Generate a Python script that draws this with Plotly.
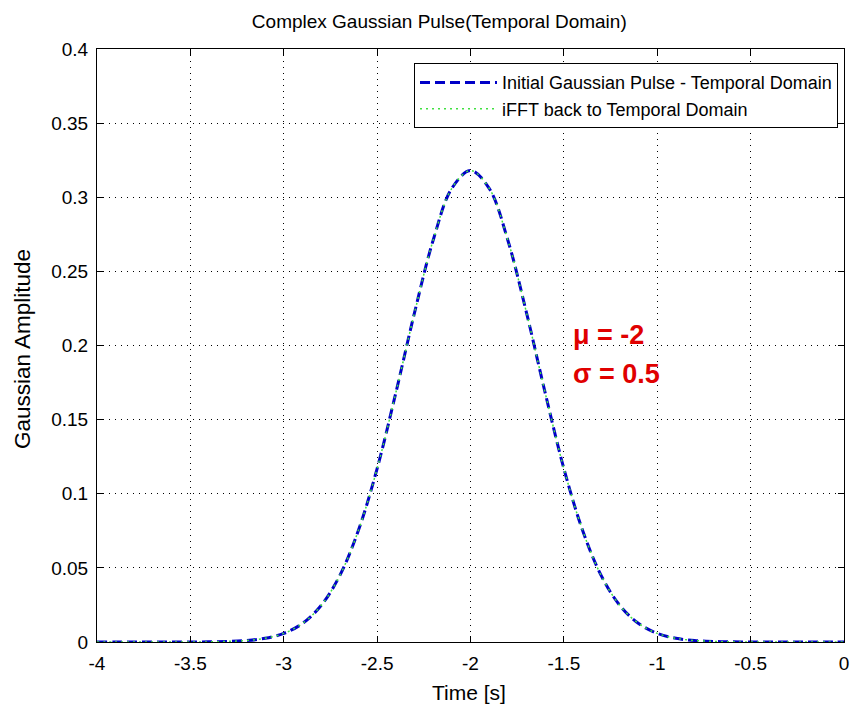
import plotly.graph_objects as go

# Time axis (s) and Gaussian amplitude values
time_s = [-4.0, -3.9, -3.8, -3.7, -3.6, -3.5, -3.4, -3.3, -3.2, -3.1,
          -3.0, -2.9, -2.8, -2.7, -2.6, -2.5, -2.4, -2.3, -2.2, -2.1,
          -2.0, -1.9, -1.8, -1.7, -1.6, -1.5, -1.4, -1.3, -1.2, -1.1,
          -1.0, -0.9, -0.8, -0.7, -0.6, -0.5, -0.4, -0.3, -0.2, -0.1, 0.0]
amp_initial = [0.0, 0.0, 0.0, 0.0, 0.0, 0.0, 0.0001, 0.0004, 0.001, 0.0025,
               0.0058, 0.0125, 0.0246, 0.0448, 0.0754, 0.117, 0.168, 0.222, 0.271, 0.306,
               0.318, 0.306, 0.271, 0.222, 0.168, 0.117, 0.0754, 0.0448, 0.0246, 0.0125,
               0.0058, 0.0025, 0.001, 0.0004, 0.0001, 0.0, 0.0, 0.0, 0.0, 0.0, 0.0]
amp_ifft = list(amp_initial)

x_ticks = [-4, -3.5, -3, -2.5, -2, -1.5, -1, -0.5, 0]
x_tick_labels = ["-4", "-3.5", "-3", "-2.5", "-2", "-1.5", "-1", "-0.5", "0"]
y_ticks = [0, 0.05, 0.1, 0.15, 0.2, 0.25, 0.3, 0.35, 0.4]
y_tick_labels = ["0", "0.05", "0.1", "0.15", "0.2", "0.25", "0.3", "0.35", "0.4"]

FONT = "Liberation Sans, Arial, sans-serif"

fig = go.Figure()
fig.add_trace(go.Scatter(
    x=time_s, y=amp_initial, mode="lines", line_shape="spline",
    name="Initial Gaussian Pulse - Temporal Domain",
    line=dict(color="#0000c8", width=3, dash="10px,5px"),
))
fig.add_trace(go.Scatter(
    x=time_s, y=amp_ifft, mode="lines", line_shape="spline",
    name="iFFT back to Temporal Domain",
    line=dict(color="#40e040", width=1.5, dash="2px,4px"),
))

axis_common = dict(
    showline=True, linecolor="black", linewidth=1, mirror="ticks",
    ticks="inside", ticklen=6, tickcolor="black",
    showgrid=True, gridcolor="black", griddash="1px,5px", gridwidth=1,
    zeroline=False, tickfont=dict(family=FONT, size=19, color="black"),
    ticklabeloverflow="allow",
)

fig.update_layout(
    width=853, height=706,
    margin=dict(l=97, r=4, t=49, b=64),
    paper_bgcolor="white", plot_bgcolor="white",
    title=dict(text="Complex Gaussian Pulse(Temporal Domain)",
               x=0.515, xanchor="center", y=0.970, yanchor="middle",
               font=dict(family=FONT, size=19, color="black")),
    xaxis=dict(range=[-4, 0], tickvals=x_ticks, ticktext=x_tick_labels, ticklabelstandoff=4,
               **axis_common),
    yaxis=dict(range=[0, 0.4], tickvals=y_ticks, ticktext=y_tick_labels, ticklabelstandoff=4,
               **axis_common),
    legend=dict(x=0.992, y=0.976, xanchor="right", yanchor="top",
                bgcolor="white", bordercolor="black", borderwidth=1,
                font=dict(family=FONT, size=18, color="black"),
                itemwidth=77, tracegroupgap=0),
    showlegend=True,
)

# axis titles
fig.add_annotation(x=(471 - 97) / 752, y=0, xref="paper", yref="paper",
                   yshift=-50, xanchor="center", yanchor="middle",
                   text="Time [s]", showarrow=False,
                   font=dict(family=FONT, size=21, color="black"))
fig.add_annotation(x=0, y=(642 - 349) / 593, xref="paper", yref="paper",
                   xshift=-75, xanchor="center", yanchor="middle", textangle=-90,
                   text="Gaussian Amplitude", showarrow=False,
                   font=dict(family=FONT, size=22.5, color="black"))

fig.add_annotation(x=-1.46, y=0.207, xref="x", yref="y", xanchor="left", yanchor="middle",
                   text="<b>μ = -2</b>", showarrow=False,
                   font=dict(family=FONT, size=27, color="#e00000"))
fig.add_annotation(x=-1.46, y=0.181, xref="x", yref="y", xanchor="left", yanchor="middle",
                   text="<b>σ = 0.5</b>", showarrow=False,
                   font=dict(family=FONT, size=27, color="#e00000"))

fig.write_html("out.html")
